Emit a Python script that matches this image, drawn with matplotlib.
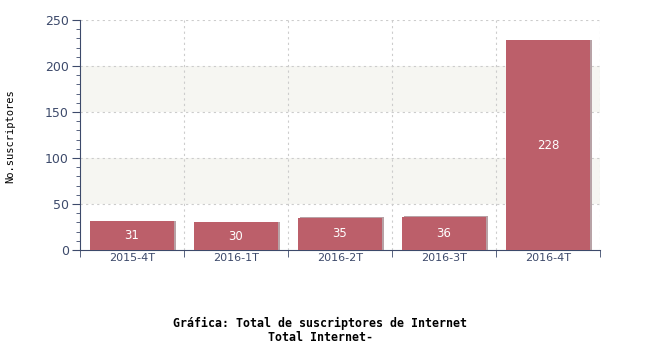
import numpy as np
import matplotlib.pyplot as plt
from matplotlib.ticker import MultipleLocator

periodos = ["2015-4T", "2016-1T", "2016-2T", "2016-3T", "2016-4T"]
suscriptores = [31, 30, 35, 36, 228]

eje = "#3d4a6b"
barra = "#bc5f6a"
sombra = "#b8a2a6"
banda = "#f6f6f2"
mono = "DejaVu Sans Mono"

fig = plt.figure(figsize=(6.5, 3.5), dpi=100)
ax = fig.add_axes([80 / 650, 1 - 250 / 350, 520 / 650, 230 / 350])

x = np.arange(len(periodos))
ax.set_xlim(-0.5, len(periodos) - 0.5)
ax.set_ylim(0, 250)

# bandas alternas
for y0 in (50, 150):
    ax.axhspan(y0, y0 + 50, color=banda, zorder=0, lw=0)

# rejilla punteada
for yv in (50, 100, 150, 200, 250):
    ax.axhline(yv, color="#cccccc", ls=(0, (2, 3)), lw=0.8, zorder=1)
for xv in np.arange(0.5, len(periodos), 1.0):
    ax.axvline(xv, color="#cccccc", ls=(0, (2, 3)), lw=0.8, zorder=1)

# sombra y barras
ax.bar(x + 0.02, np.array(suscriptores) + 0.8, width=0.8, color=sombra, zorder=2)
ax.bar(x, suscriptores, width=0.8, color=barra, zorder=3)
for xi, v in zip(x, suscriptores):
    ax.text(xi, v / 2, str(v), color="white", ha="center", va="center",
            fontsize=8.5, zorder=4)

for s in ("top", "right"):
    ax.spines[s].set_visible(False)
ax.spines["left"].set_color(eje)
ax.spines["bottom"].set_color(eje)

ax.set_xticks(x)
ax.set_xticklabels(periodos, fontsize=8, color=eje)
ax.tick_params(axis="x", length=0, pad=2)
ax.set_xticks(np.arange(-0.5, len(periodos), 1.0), minor=True)
ax.tick_params(axis="x", which="minor", length=5, color=eje, direction="out")

ax.yaxis.set_major_locator(MultipleLocator(50))
ax.yaxis.set_minor_locator(MultipleLocator(10))
ax.tick_params(axis="y", which="major", length=6, color=eje, labelcolor=eje,
               labelsize=9, pad=2)
ax.tick_params(axis="y", which="minor", length=3, color=eje)

fig.text(10 / 650, 1 - 136 / 350, "No.suscriptores", rotation=90, ha="center",
         va="center", family=mono, fontsize=7.5)
fig.text(320 / 650, 1 - 330.5 / 350,
         "Gráfica: Total de suscriptores de Internet\nTotal Internet-",
         ha="center", va="center", family=mono, fontsize=8.4, fontweight="bold",
         linespacing=1.15)

fig.savefig("out.png", dpi=100)
